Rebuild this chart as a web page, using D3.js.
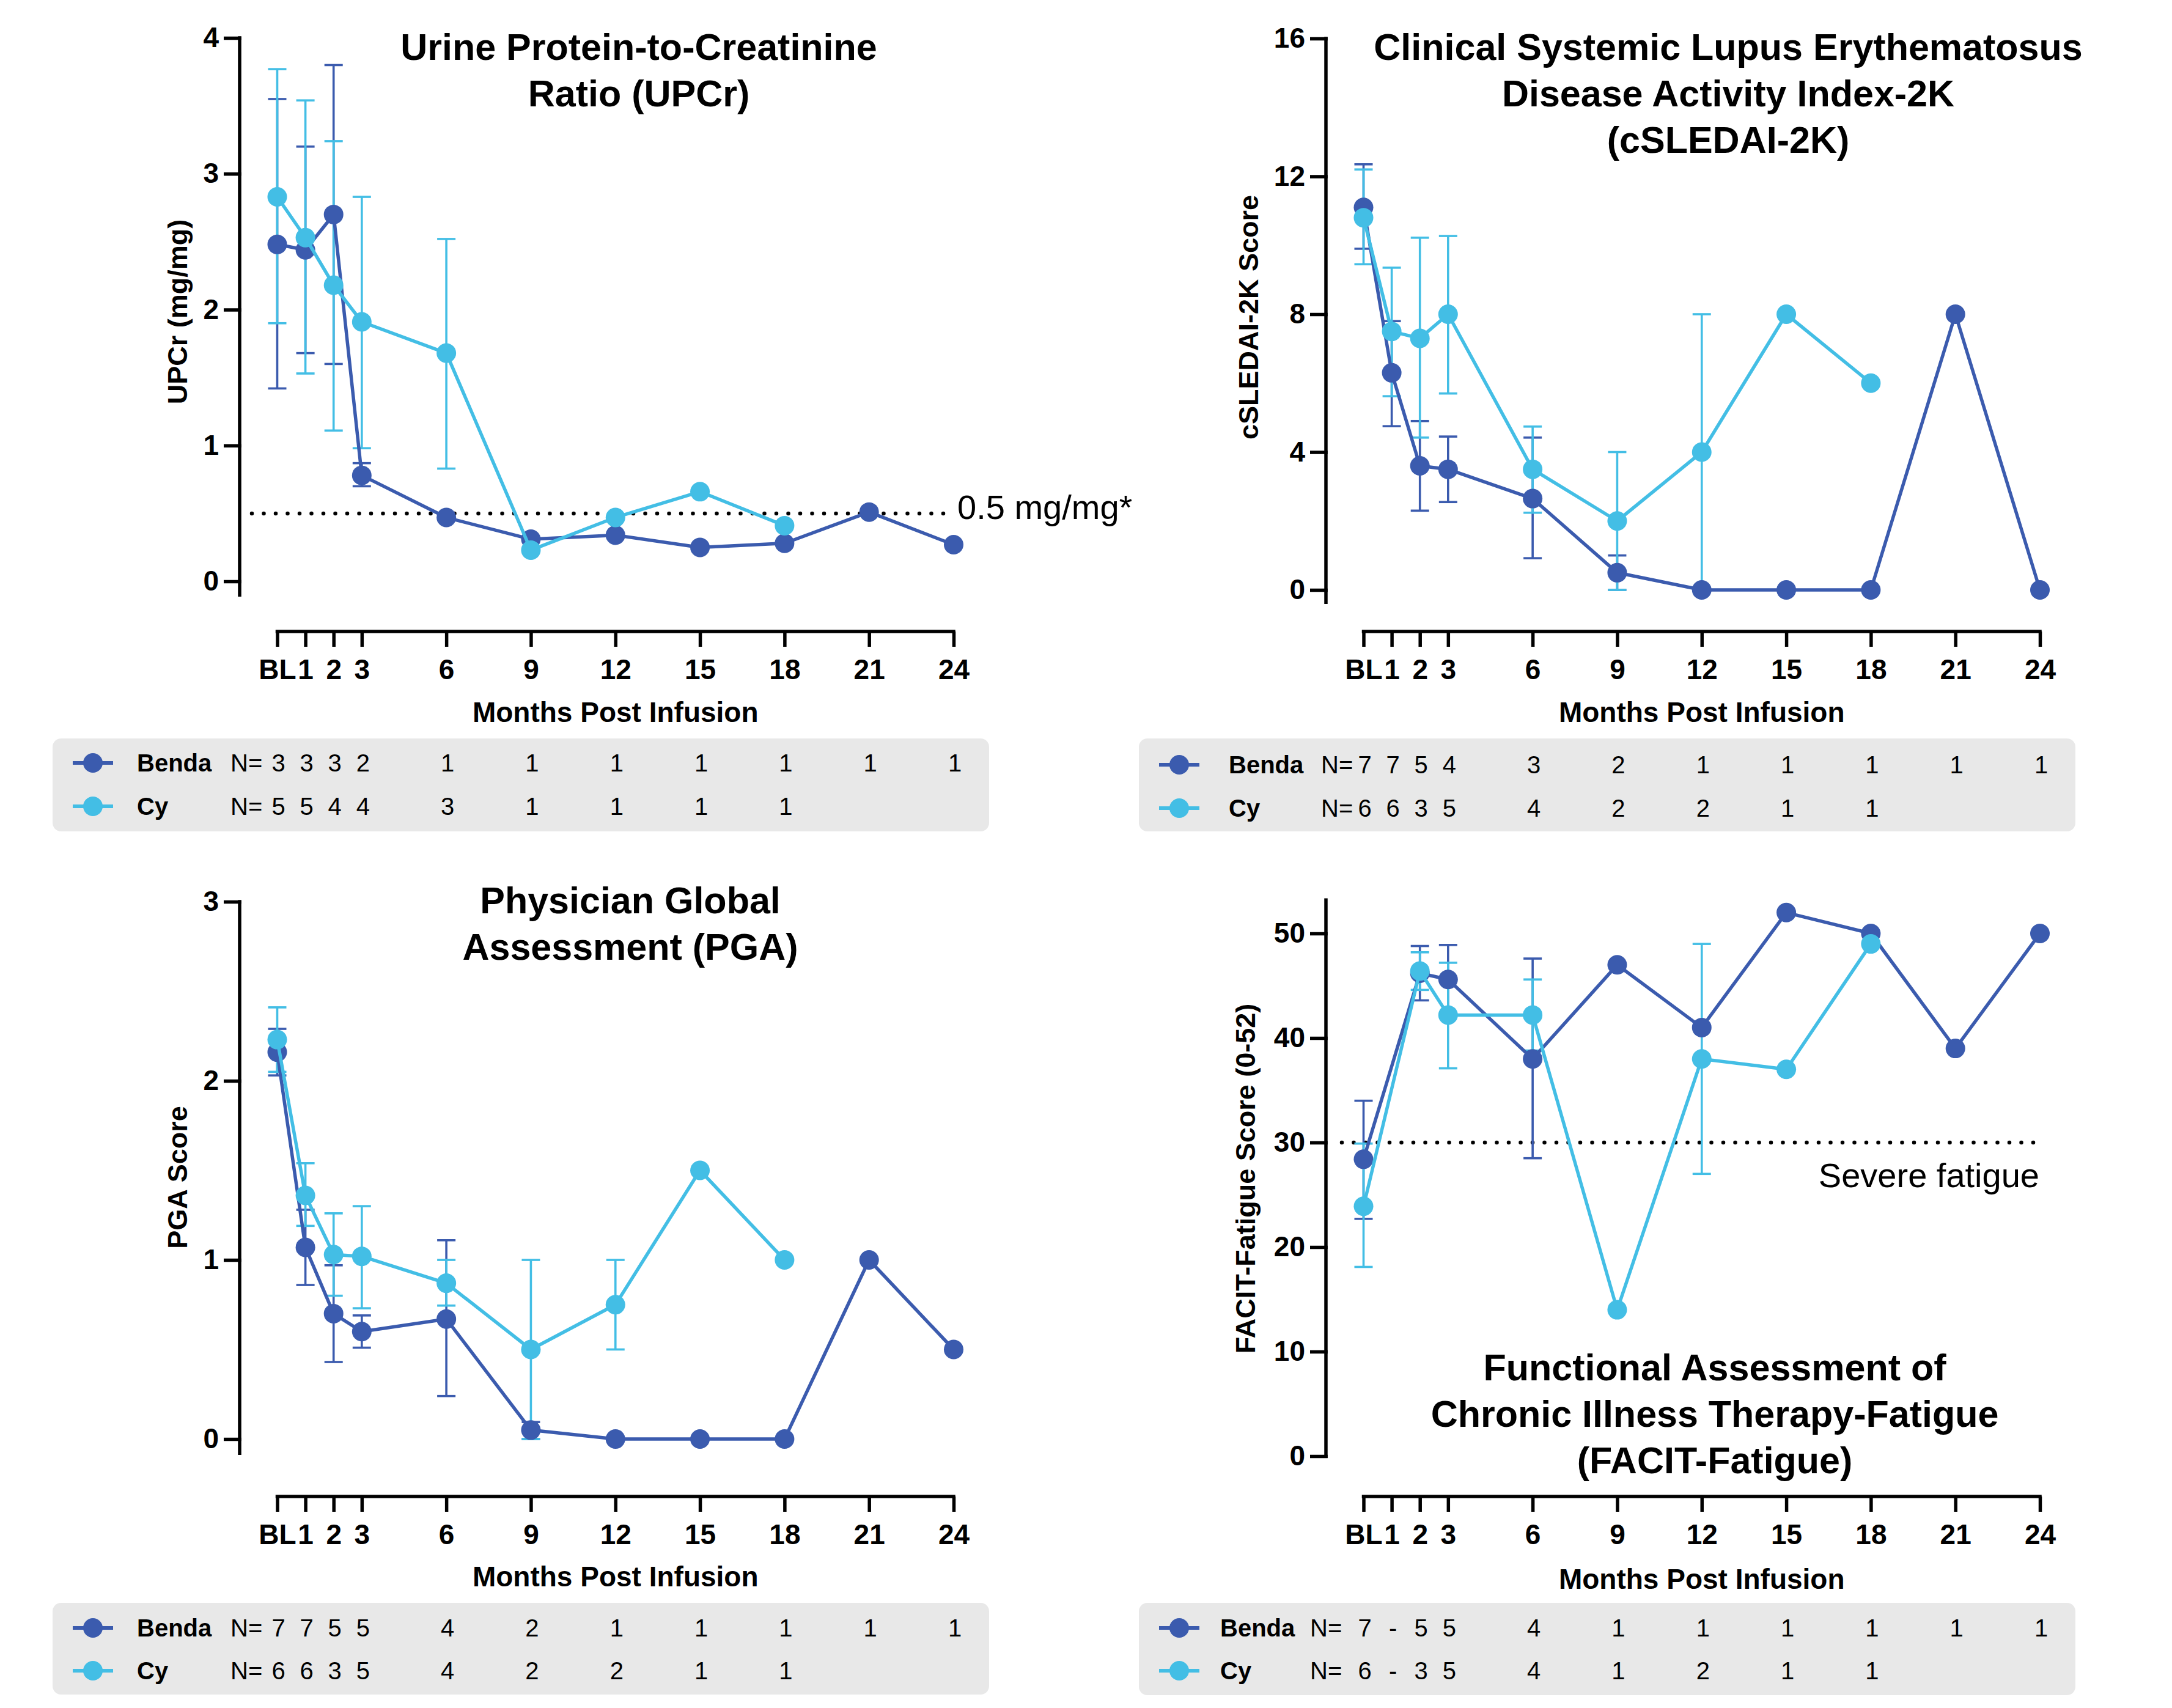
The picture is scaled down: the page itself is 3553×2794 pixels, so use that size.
<!DOCTYPE html>
<html><head><meta charset="utf-8">
<script src="https://cdn.jsdelivr.net/npm/d3@7"></script>
<style>
html,body{margin:0;padding:0;background:#fff;}
svg{display:block;font-family:"Liberation Sans",Arial,Helvetica,sans-serif;}
</style></head><body>
<svg id="chart" width="3553" height="2794"></svg>
<script>
// ---------- shared categories ----------
const months = [0, 1, 2, 3, 6, 9, 12, 15, 18, 21, 24];
const monthLabels = ["BL", "1", "2", "3", "6", "9", "12", "15", "18", "21", "24"];
const seriesNames = ["Benda", "Cy"];
const seriesColors = ["#3B5BAE", "#43BEE5"];

// ---------- UPCr ----------
const upcrBenda   = [2.48, 2.44, 2.70, 0.78, 0.47, 0.31, 0.34, 0.25, 0.28, 0.51, 0.27];
const upcrBendaLo = [1.42, 1.68, 1.60, 0.70, null, null, null, null, null, null, null];
const upcrBendaHi = [3.55, 3.20, 3.80, 0.87, null, null, null, null, null, null, null];
const upcrCy      = [2.83, 2.53, 2.18, 1.91, 1.68, 0.23, 0.47, 0.66, 0.41, null, null];
const upcrCyLo    = [1.90, 1.53, 1.11, 0.98, 0.83, null, null, null, null, null, null];
const upcrCyHi    = [3.77, 3.54, 3.24, 2.83, 2.52, null, null, null, null, null, null];
const upcrNBenda  = ["3", "3", "3", "2", "1", "1", "1", "1", "1", "1", "1"];
const upcrNCy     = ["5", "5", "4", "4", "3", "1", "1", "1", "1", "", ""];

// ---------- cSLEDAI-2K ----------
const sledaiBenda   = [11.1, 6.3, 3.6, 3.5, 2.65, 0.5, 0, 0, 0, 8, 0];
const sledaiBendaLo = [9.9, 4.75, 2.3, 2.55, 0.92, 0, null, null, null, null, null];
const sledaiBendaHi = [12.35, 7.8, 4.9, 4.45, 4.42, 1.0, null, null, null, null, null];
const sledaiCy      = [10.8, 7.5, 7.3, 8.0, 3.5, 2.0, 4.0, 8.0, 6.0, null, null];
const sledaiCyLo    = [9.45, 5.62, 4.42, 5.7, 2.24, 0, 0, null, null, null, null];
const sledaiCyHi    = [12.2, 9.35, 10.22, 10.27, 4.74, 4.0, 8.0, null, null, null, null];
const sledaiNBenda  = ["7", "7", "5", "4", "3", "2", "1", "1", "1", "1", "1"];
const sledaiNCy     = ["6", "6", "3", "5", "4", "2", "2", "1", "1", "", ""];

// ---------- PGA ----------
const pgaBenda   = [2.16, 1.07, 0.70, 0.60, 0.67, 0.05, 0, 0, 0, 1.0, 0.5];
const pgaBendaLo = [2.03, 0.86, 0.43, 0.51, 0.24, 0, null, null, null, null, null];
const pgaBendaHi = [2.29, 1.28, 0.97, 0.69, 1.11, 0.095, null, null, null, null, null];
const pgaCy      = [2.23, 1.36, 1.03, 1.02, 0.87, 0.5, 0.75, 1.5, 1.0, null, null];
const pgaCyLo    = [2.05, 1.19, 0.80, 0.73, 0.745, 0, 0.5, null, null, null, null];
const pgaCyHi    = [2.41, 1.54, 1.26, 1.30, 1.0, 1.0, 1.0, null, null, null, null];
const pgaNBenda  = ["7", "7", "5", "5", "4", "2", "1", "1", "1", "1", "1"];
const pgaNCy     = ["6", "6", "3", "5", "4", "2", "2", "1", "1", "", ""];

// ---------- FACIT-Fatigue ----------
const facitBenda   = [28.4, null, 46.2, 45.6, 38.0, 47.0, 41.0, 52.0, 50.0, 39.0, 50.0];
const facitBendaLo = [22.7, null, 43.6, 42.2, 28.5, null, null, null, null, null, null];
const facitBendaHi = [34.0, null, 48.8, 48.9, 47.6, null, null, null, null, null, null];
const facitCy      = [23.9, null, 46.4, 42.2, 42.2, 14.0, 38.0, 37.0, 49.0, null, null];
const facitCyLo    = [18.1, null, 44.6, 37.1, 38.8, null, 27.0, null, null, null, null];
const facitCyHi    = [29.9, null, 48.2, 47.2, 45.6, null, 49.0, null, null, null, null];
const facitNBenda  = ["7", "-", "5", "5", "4", "1", "1", "1", "1", "1", "1"];
const facitNCy     = ["6", "-", "3", "5", "4", "1", "2", "1", "1", "", ""];

// ---------- panel definitions (data refs + layout) ----------
const panels = [
  { title: ["Urine Protein-to-Creatinine", "Ratio (UPCr)"], yLabel: "UPCr (mg/mg)",
    series: [[upcrBenda, upcrBendaLo, upcrBendaHi], [upcrCy, upcrCyLo, upcrCyHi]],
    ns: [upcrNBenda, upcrNCy], yTicks: [0, 1, 2, 3, 4], yTopVal: 4, axisTopVal: 4,
    refLine: 0.5, refText: "0.5 mg/mg*",
    L: { yAxisX: 392, x0: 453.5, x1: 1560, xAxisY: 1033, yPix0: 951, yPixTop: 62, ext: 25,
         titleX: 1045, titleY: 98, yLabX: 306, yLabY: 510, xLabY: 1181, refStart: 412,
         refTextX: 1566, refTextY: 849, refAnchor: "start",
         leg: { x: 86, y: 1208, w: 1532, h: 152, r1: 1248, r2: 1319, nameX: 224, nX: 377 } } },
  { title: ["Clinical Systemic Lupus Erythematosus", "Disease Activity Index-2K", "(cSLEDAI-2K)"],
    yLabel: "cSLEDAI-2K Score",
    series: [[sledaiBenda, sledaiBendaLo, sledaiBendaHi], [sledaiCy, sledaiCyLo, sledaiCyHi]],
    ns: [sledaiNBenda, sledaiNCy], yTicks: [0, 4, 8, 12, 16], yTopVal: 16, axisTopVal: 16,
    L: { yAxisX: 2169, x0: 2230.5, x1: 3337, xAxisY: 1033, yPix0: 965, yPixTop: 63, ext: 23,
         titleX: 2827, titleY: 98, yLabX: 2058, yLabY: 519, xLabY: 1181,
         leg: { x: 1863, y: 1208, w: 1532, h: 152, r1: 1251, r2: 1322, nameX: 2010, nX: 2161 } } },
  { title: ["Physician Global", "Assessment (PGA)"], yLabel: "PGA Score",
    series: [[pgaBenda, pgaBendaLo, pgaBendaHi], [pgaCy, pgaCyLo, pgaCyHi]],
    ns: [pgaNBenda, pgaNCy], yTicks: [0, 1, 2, 3], yTopVal: 3, axisTopVal: 3,
    L: { yAxisX: 392, x0: 453.5, x1: 1560, xAxisY: 2448, yPix0: 2354, yPixTop: 1475, ext: 26,
         titleX: 1031, titleY: 1494, yLabX: 306, yLabY: 1926, xLabY: 2595,
         leg: { x: 86, y: 2622, w: 1532, h: 150, r1: 2663, r2: 2733, nameX: 224, nX: 377 } } },
  { title: ["Functional Assessment of", "Chronic Illness Therapy-Fatigue", "(FACIT-Fatigue)"],
    yLabel: "FACIT-Fatigue Score (0-52)",
    series: [[facitBenda, facitBendaLo, facitBendaHi], [facitCy, facitCyLo, facitCyHi]],
    ns: [facitNBenda, facitNCy], yTicks: [0, 10, 20, 30, 40, 50], yTopVal: 50, axisTopVal: 53.2,
    refLine: 30, refText: "Severe fatigue",
    L: { yAxisX: 2169, x0: 2230.5, x1: 3337, xAxisY: 2448, yPix0: 2382, yPixTop: 1527, ext: 3,
         titleX: 2805, titleY: 2258, yLabX: 2053, yLabY: 1928, xLabY: 2599, refStart: 2195,
         refTextX: 3336, refTextY: 1942, refAnchor: "end",
         leg: { x: 1863, y: 2622, w: 1532, h: 151, r1: 2663, r2: 2733, nameX: 1996, nX: 2143 } } }
];

const svg = d3.select("#chart");
const AXW = 5.5, TICKFS = 46, R = 16, CAP = 15;

panels.forEach(p => {
  const L = p.L;
  const g = svg.append("g");
  const x = d3.scaleLinear().domain([0, 24]).range([L.x0, L.x1]);
  const y = d3.scaleLinear().domain([0, p.yTopVal]).range([L.yPix0, L.yPixTop]);

  // y axis
  const yAx = g.append("g").attr("transform", `translate(${L.yAxisX},0)`)
    .call(d3.axisLeft(y).tickValues(p.yTicks).tickFormat(d3.format("d")).tickSize(26).tickSizeOuter(0).tickPadding(8));
  yAx.select(".domain").remove();
  yAx.append("line").attr("x1", 0).attr("x2", 0)
    .attr("y1", y(p.axisTopVal) - AXW / 2).attr("y2", L.yPix0 + L.ext)
    .attr("stroke", "#000").attr("stroke-width", AXW);
  yAx.selectAll(".tick line").attr("stroke", "#000").attr("stroke-width", AXW).attr("x2", -26).attr("x1", AXW / 2);
  yAx.selectAll(".tick text").attr("font-size", TICKFS).attr("font-weight", "bold").attr("fill", "#000")
    .attr("font-family", "Liberation Sans, Arial, sans-serif");

  // x axis
  const xAx = g.append("g").attr("transform", `translate(0,${L.xAxisY})`)
    .call(d3.axisBottom(x).tickValues(months).tickFormat((d, i) => monthLabels[i]).tickSize(25).tickSizeOuter(0).tickPadding(20));
  xAx.select(".domain").remove();
  xAx.append("line").attr("x1", L.x0 - AXW / 2).attr("x2", L.x1 + AXW / 2).attr("y1", 0).attr("y2", 0)
    .attr("stroke", "#000").attr("stroke-width", AXW);
  xAx.selectAll(".tick line").attr("stroke", "#000").attr("stroke-width", AXW);
  xAx.selectAll(".tick text").attr("font-size", TICKFS).attr("font-weight", "bold").attr("fill", "#000")
    .attr("font-family", "Liberation Sans, Arial, sans-serif");

  // axis titles
  g.append("text").attr("x", (L.x0 + L.x1) / 2).attr("y", L.xLabY).attr("text-anchor", "middle")
    .attr("font-size", 46).attr("font-weight", "bold").text("Months Post Infusion");
  g.append("text").attr("transform", `translate(${L.yLabX},${L.yLabY}) rotate(-90)`).attr("text-anchor", "middle")
    .attr("font-size", 45).attr("font-weight", "bold").text(p.yLabel);

  // title
  p.title.forEach((t, i) => {
    g.append("text").attr("x", L.titleX).attr("y", L.titleY + i * 76).attr("text-anchor", "middle")
      .attr("font-size", 61).attr("font-weight", "bold").text(t);
  });

  // reference line
  if (p.refLine != null) {
    g.append("line").attr("x1", L.refStart).attr("x2", L.x1).attr("y1", y(p.refLine)).attr("y2", y(p.refLine))
      .attr("stroke", "#000").attr("stroke-width", 6.5).attr("stroke-linecap", "round").attr("stroke-dasharray", "0,19.5");
    g.append("text").attr("x", L.refTextX).attr("y", L.refTextY).attr("text-anchor", L.refAnchor)
      .attr("font-size", 56).text(p.refText);
  }

  // error bars
  p.series.forEach((s, si) => {
    const [vals, lo, hi] = s;
    const eb = g.append("g").attr("stroke", seriesColors[si]).attr("stroke-width", 3.6);
    months.forEach((m, i) => {
      if (lo[i] == null || hi[i] == null) return;
      const cx = x(m);
      eb.append("line").attr("x1", cx).attr("x2", cx).attr("y1", y(lo[i])).attr("y2", y(hi[i]));
      [lo[i], hi[i]].forEach(v => {
        eb.append("line").attr("x1", cx - CAP).attr("x2", cx + CAP).attr("y1", y(v)).attr("y2", y(v));
      });
    });
  });

  // lines & points
  p.series.forEach((s, si) => {
    const pts = months.map((m, i) => [m, s[0][i]]).filter(d => d[1] != null);
    g.append("path").datum(pts).attr("fill", "none").attr("stroke", seriesColors[si]).attr("stroke-width", 5.5)
      .attr("stroke-linejoin", "round")
      .attr("d", d3.line().x(d => x(d[0])).y(d => y(d[1])));
    g.append("g").selectAll("circle").data(pts).join("circle")
      .attr("cx", d => x(d[0])).attr("cy", d => y(d[1])).attr("r", R).attr("fill", seriesColors[si]);
  });

  // legend / N table
  const lg = L.leg;
  g.append("rect").attr("x", lg.x).attr("y", lg.y).attr("width", lg.w).attr("height", lg.h)
    .attr("rx", 14).attr("fill", "#E8E8E8");
  [lg.r1, lg.r2].forEach((ry, si) => {
    const symX = lg.x + 66;
    g.append("line").attr("x1", symX - 33).attr("x2", symX + 33).attr("y1", ry).attr("y2", ry)
      .attr("stroke", seriesColors[si]).attr("stroke-width", 6);
    g.append("circle").attr("cx", symX).attr("cy", ry).attr("r", R).attr("fill", seriesColors[si]);
    g.append("text").attr("x", lg.nameX).attr("y", ry + 14).attr("font-size", 40).attr("font-weight", "bold")
      .text(seriesNames[si]);
    g.append("text").attr("x", lg.nX).attr("y", ry + 14).attr("font-size", 40).text("N=");
    g.append("g").selectAll("text").data(p.ns[si]).join("text")
      .attr("x", (d, i) => x(months[i]) + 2).attr("y", ry + 14).attr("text-anchor", "middle")
      .attr("font-size", 40).text(d => d);
  });
});
</script>
</body></html>
